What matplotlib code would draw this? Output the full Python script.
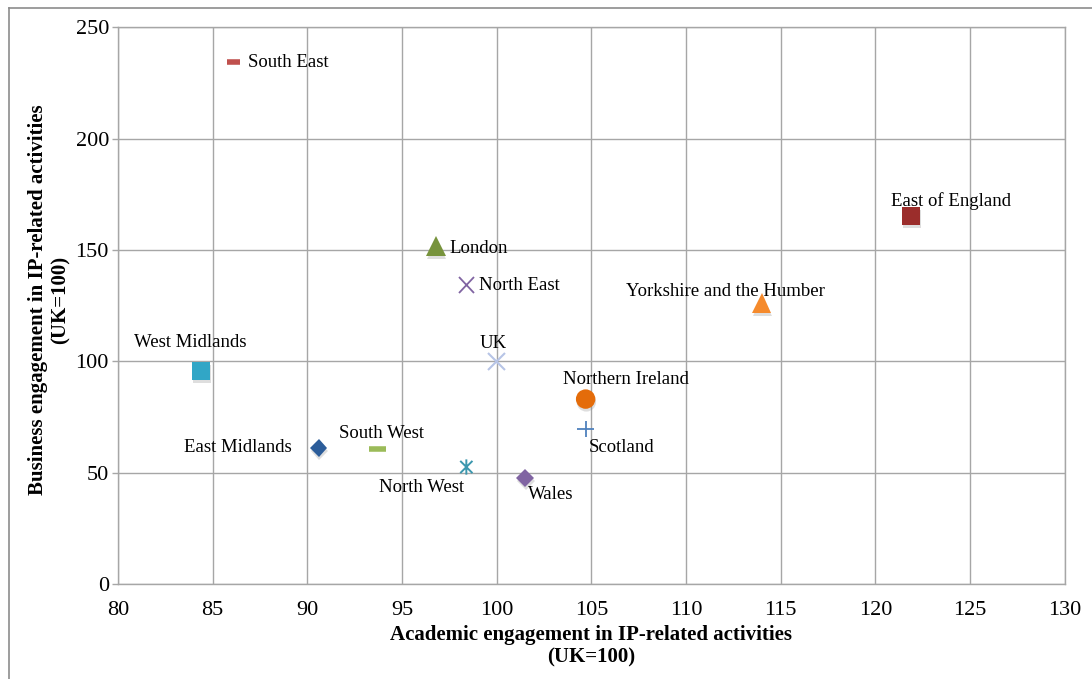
import numpy as np
import matplotlib
matplotlib.use('Agg')
import matplotlib.pyplot as plt
import matplotlib.patheffects as pe
from matplotlib.path import Path
from matplotlib.lines import Line2D

plt.rcParams['font.family'] = ['Liberation Serif', 'DejaVu Serif']

# regional scores, UK = 100
regions = ['South East', 'East of England', 'London', 'North East',
           'Yorkshire and the Humber', 'West Midlands', 'UK', 'Northern Ireland',
           'Scotland', 'East Midlands', 'South West', 'North West', 'Wales']
academic = [86.1, 121.9, 96.8, 98.4, 114.0, 84.4, 100.0, 104.7, 104.7, 90.6, 93.7, 98.4, 101.5]
business = [234.3, 165.2, 151.7, 134.2, 126.1, 95.6, 100.0, 83.0, 69.6, 61.0, 60.6, 52.5, 47.6]

# asterisk made of an x and a vertical bar
star = Path([(-1, -1), (1, 1), (-1, 1), (1, -1), (0, -1.25), (0, 1.25)],
            [Path.MOVETO, Path.LINETO, Path.MOVETO, Path.LINETO, Path.MOVETO, Path.LINETO])

# marker, colour, size, edge width
styles = {
    'South East': ('_', '#C0504D', 9, 4),
    'East of England': ('s', '#9B2D2B', 13, 0),
    'London': ('^', '#77933C', 14, 0),
    'North East': ('x', '#8064A2', 11, 1.3),
    'Yorkshire and the Humber': ('^', '#F58A2C', 14, 0),
    'West Midlands': ('s', '#31A6C6', 13, 0),
    'UK': ('x', '#B7C4E6', 12, 1.5),
    'Northern Ireland': ('o', '#E46C0A', 14, 0),
    'Scotland': ('+', '#4F81BD', 12, 1.3),
    'East Midlands': ('D', '#2C5D9A', 9, 0),
    'South West': ('_', '#9BBB59', 12, 4),
    'North West': (star, '#3B97AE', 11, 1.4),
    'Wales': ('D', '#8064A2', 9, 0),
}

# label offsets in pixels (dx, dy) and alignment
label_pos = {
    'South East': (15, 0, 'left'),
    'East of England': (40, 15, 'center'),
    'London': (13, -2, 'left'),
    'North East': (13, 0, 'left'),
    'Yorkshire and the Humber': (-36, 12, 'center'),
    'West Midlands': (-11, 29, 'center'),
    'UK': (-4, 18, 'center'),
    'Northern Ireland': (40, 20, 'center'),
    'Scotland': (36, -19, 'center'),
    'East Midlands': (-27, 1, 'right'),
    'South West': (4, 15, 'center'),
    'North West': (-45, -20, 'center'),
    'Wales': (26, -17, 'center'),
}

fig = plt.figure(figsize=(10.92, 6.79), dpi=100)
ax = fig.add_axes([0.108, 0.140, 0.867, 0.820])

shadow = [pe.SimplePatchShadow(offset=(0.5, -2), shadow_rgbFace='#7F7F7F', alpha=0.25), pe.Normal()]

for name, x, y in zip(regions, academic, business):
    m, c, s, w = styles[name]
    ax.plot(x, y, linestyle='none', marker=m, color=c, markersize=s,
            markeredgewidth=w, markeredgecolor=c, zorder=3, path_effects=shadow)
    dx, dy, ha = label_pos[name]
    ax.annotate(name, (x, y), xytext=(dx, dy), textcoords='offset pixels',
                ha=ha, va='center', fontsize=13.5, color='black', zorder=4)

ax.set_xlim(80, 130)
ax.set_ylim(0, 250)
ax.set_xticks(np.arange(80, 131, 5))
ax.set_yticks(np.arange(0, 251, 50))
ax.grid(True, color='#A6A6A6', linewidth=1)
ax.set_axisbelow(True)
for side in ['left', 'bottom', 'right', 'top']:
    ax.spines[side].set_color('#A6A6A6')
    ax.spines[side].set_linewidth(1)
ax.tick_params(axis='both', colors='#A6A6A6', labelcolor='black', labelsize=16, width=1)
ax.tick_params(axis='y', length=4, pad=2.5)
ax.tick_params(axis='x', length=0, pad=12)

ax.set_xlabel('Academic engagement in IP-related activities\n(UK=100)',
              fontsize=15, fontweight='bold', labelpad=4, linespacing=1.15)
ax.set_ylabel('Business engagement in IP-related activities\n(UK=100)',
              fontsize=15, fontweight='bold', linespacing=1.2)
ax.yaxis.set_label_coords(-0.050, 0.51)

# outer frame on the top and left edge
fig.add_artist(Line2D([9 / 1092, 1], [1 - 8 / 679, 1 - 8 / 679], color='#8C8C8C', linewidth=1.2))
fig.add_artist(Line2D([9 / 1092, 9 / 1092], [0, 1 - 8 / 679], color='#8C8C8C', linewidth=1.2))

fig.savefig('out.png', dpi=100)
